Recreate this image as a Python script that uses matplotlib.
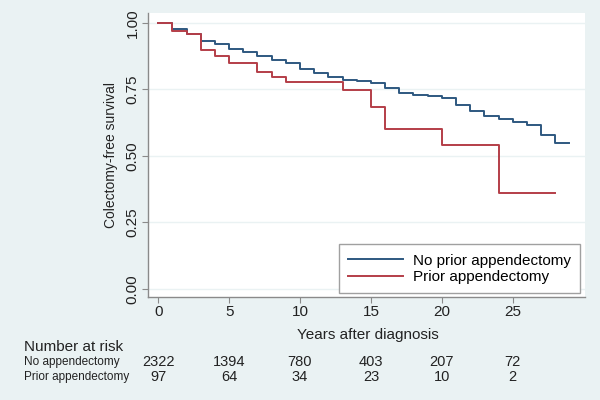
import matplotlib
matplotlib.use("Agg")
import matplotlib.pyplot as plt
import matplotlib.transforms as mtransforms

plt.rcParams['font.family'] = ['Liberation Sans', 'DejaVu Sans']

# Data
no_app_times = [0, 1, 2, 3, 4, 5, 6, 7, 8, 9, 10, 11, 12, 13, 14, 15, 16, 17, 18, 19,
                20, 21, 22, 23, 24, 25, 26, 27, 28, 29]
no_app_surv = [1.000, 0.977, 0.957, 0.933, 0.921, 0.903, 0.890, 0.876, 0.861, 0.848,
               0.826, 0.813, 0.798, 0.785, 0.780, 0.773, 0.754, 0.735, 0.729, 0.725,
               0.719, 0.693, 0.667, 0.650, 0.637, 0.627, 0.615, 0.578, 0.547, 0.547]
prior_times = [0, 1, 2, 3, 4, 5, 7, 8, 9, 13, 15, 16, 20, 24, 28]
prior_surv = [1.000, 0.970, 0.960, 0.898, 0.877, 0.849, 0.816, 0.798, 0.779, 0.748,
              0.683, 0.602, 0.541, 0.361, 0.361]

x_ticks = [0, 5, 10, 15, 20, 25]
y_ticks = [0.00, 0.25, 0.50, 0.75, 1.00]
risk_no = [2322, 1394, 780, 403, 207, 72]
risk_prior = [97, 64, 34, 23, 10, 2]

bg = '#eaf2f3'
blue = '#2e5880'
red = '#b43e48'

fig = plt.figure(figsize=(6, 4), dpi=100, facecolor=bg)
ax = fig.add_axes([148/600, 1 - 297/400, (585-148)/600, (297-13)/400])
ax.set_facecolor('white')

for yv in y_ticks:
    ax.axhline(yv, color=bg, lw=1.0, zorder=0)

ax.step(no_app_times, no_app_surv, where='post', color=blue, lw=1.4,
        label='No prior appendectomy', zorder=3)
ax.step(prior_times, prior_surv, where='post', color=red, lw=1.4,
        label='Prior appendectomy', zorder=3)

ax.set_xlim(-0.72, 30.1)
ax.set_ylim(-0.031, 1.0376)
ax.set_xticks(x_ticks)
ax.set_yticks(y_ticks)
ax.set_yticklabels([f'{v:.2f}' for v in y_ticks], rotation=90, va='center')
ax.tick_params(axis='both', labelsize=11, color='#8a8a8a', length=4, width=0.8,
               labelcolor='#222222', direction='out', pad=2)
for s in ['top', 'right']:
    ax.spines[s].set_visible(False)
for s in ['left', 'bottom']:
    ax.spines[s].set_color('#8a8a8a')
    ax.spines[s].set_linewidth(1.0)

ax.set_ylabel('Colectomy-free survival', fontsize=10, color='#222222')
ax.yaxis.set_label_coords((118-148)/437, 0.5)
ax.set_xlabel('Years after diagnosis', fontsize=11, color='#222222', labelpad=0)
ax.xaxis.set_label_coords((368-148)/437, -(328-297)/284)

leg = ax.legend(loc='lower right', bbox_to_anchor=(0.989, 0.014), borderaxespad=0,
                fontsize=11, frameon=True, fancybox=False, framealpha=1,
                edgecolor='#a0a0a0', handlelength=3.6, handletextpad=0.65,
                labelspacing=0.15, borderpad=0.6)
leg.get_frame().set_linewidth(1.0)

trans = mtransforms.blended_transform_factory(ax.transData, fig.transFigure)
fig.text(24/600, 1 - 347/400, 'Number at risk', fontsize=11, va='center', ha='left',
         color='#222222')
fig.text(24/600, 1 - 362/400, 'No appendectomy', fontsize=8.5, va='center', ha='left',
         color='#222222')
fig.text(24/600, 1 - 377/400, 'Prior appendectomy', fontsize=8.5, va='center', ha='left',
         color='#222222')
for xt, n1, n2 in zip(x_ticks, risk_no, risk_prior):
    ax.text(xt, 1 - 362/400, str(n1), transform=trans, fontsize=10.5, ha='center',
            va='center', color='#222222')
    ax.text(xt, 1 - 377/400, str(n2), transform=trans, fontsize=10.5, ha='center',
            va='center', color='#222222')

fig.savefig('out.png', dpi=100, facecolor=bg)
